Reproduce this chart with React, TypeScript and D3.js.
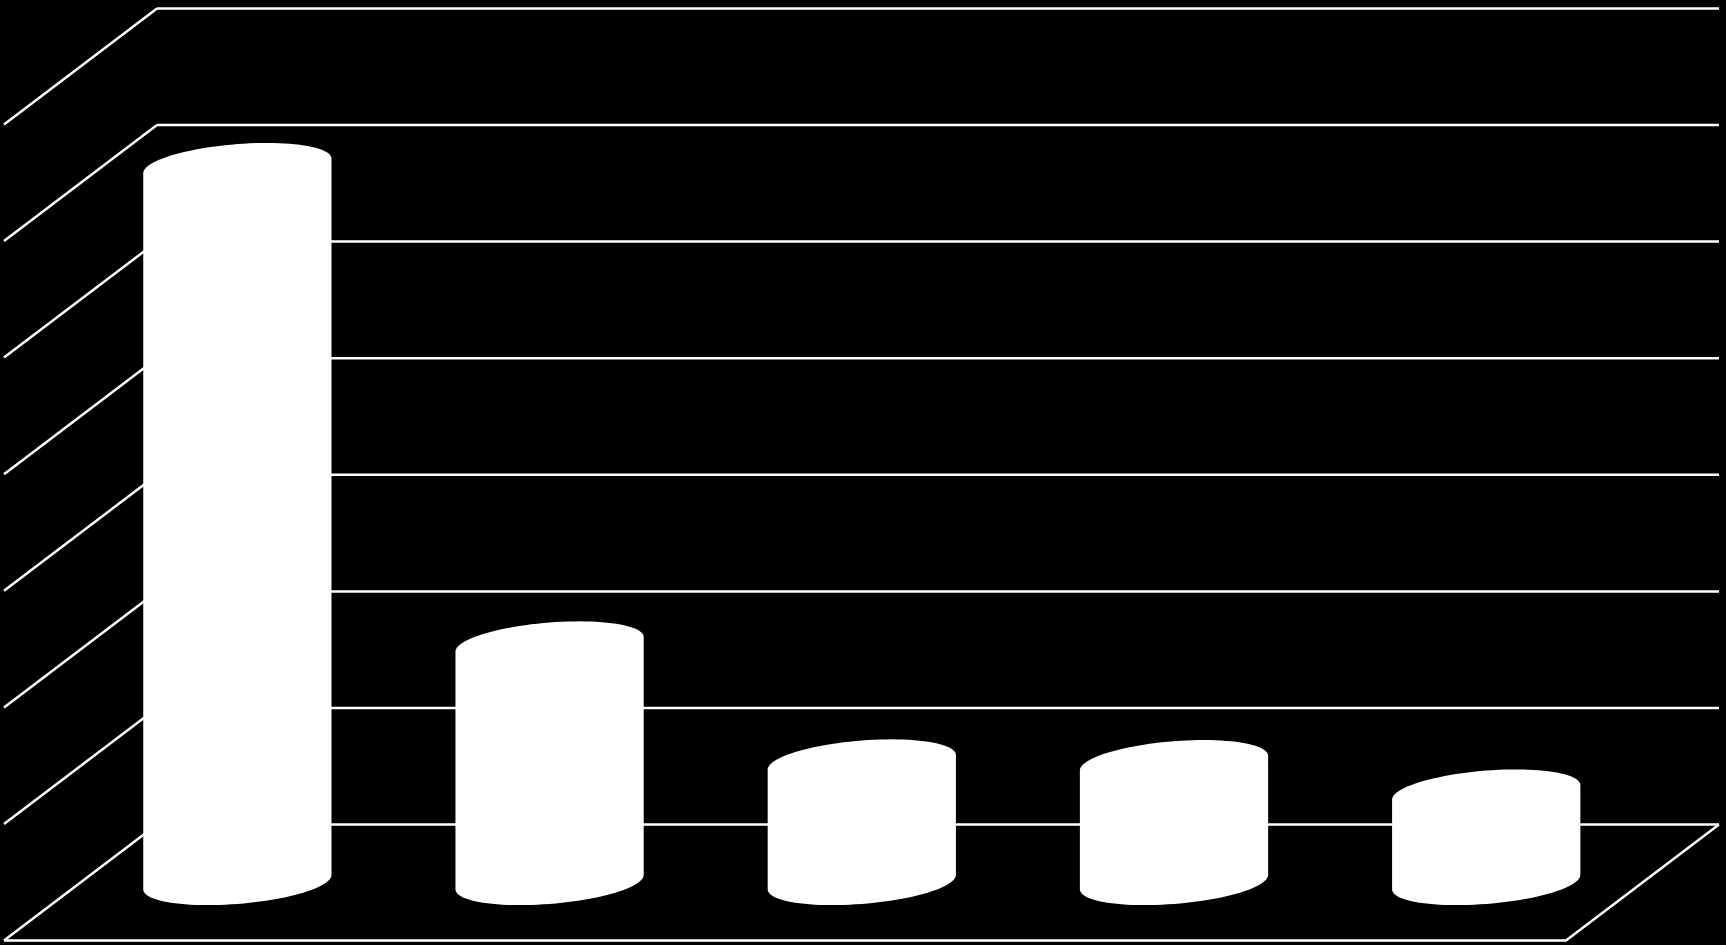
import * as React from "react";
import { select, scaleBand, scaleLinear, line, range } from "d3";

const WIDTH = 1726;
const HEIGHT = 945;

// the chart has no labels, the categories are just the bar order
const categories = [1, 2, 3, 4, 5];
const values = [6.142, 2.039, 1.027, 1.021, 0.769];
const gridValues = [0, 1, 2, 3, 4, 5, 6, 7];

// 3d box: front left corner and the shift to the back wall
const frontLeft = 4;
const frontRight = 1566;
const depthX = 153;
const depthY = 116;
const backBottom = 824.6;
const backTop = 8.4;

// cylinder cap, an ellipse sheared along the depth direction
const capHeight = 23;
const capShear = 0.32;

function App() {
    const svgRef = React.useRef<SVGSVGElement>(null);

    React.useEffect(() => {
        const svg = select(svgRef.current);

        const xScale = scaleBand<number>()
            .domain(categories)
            .range([frontLeft, frontRight])
            .paddingInner(0.397)
            .paddingOuter(0.2);

        const yScale = scaleLinear().domain([0, 7]).range([backBottom, backTop]);

        // walls
        const grid = svg.select(".grid");
        grid.selectAll(".back")
            .data(gridValues)
            .join("line")
            .attr("class", "back")
            .attr("x1", frontLeft + depthX)
            .attr("x2", frontRight + depthX)
            .attr("y1", d => yScale(d))
            .attr("y2", d => yScale(d));

        grid.selectAll(".side")
            .data(gridValues)
            .join("line")
            .attr("class", "side")
            .attr("x1", frontLeft)
            .attr("x2", frontLeft + depthX)
            .attr("y1", d => yScale(d) + depthY)
            .attr("y2", d => yScale(d));

        // floor
        grid.selectAll(".floor")
            .data([0])
            .join("path")
            .attr("class", "floor")
            .attr("fill", "none")
            .attr(
                "d",
                `M${frontLeft},${yScale(0) + depthY}L${frontRight},${yScale(0) + depthY}L${frontRight + depthX},${yScale(0)}`
            );

        grid.selectAll("line, path")
            .attr("stroke", "#fff")
            .attr("stroke-width", 2.5);

        // bars
        const a = xScale.bandwidth() / 2;
        const steps = range(0, 49).map(i => i / 48);
        const outline = line<number[]>();

        svg.select(".bars")
            .selectAll("path")
            .data(values)
            .join("path")
            .attr("fill", "#fff")
            .attr("d", (d, i) => {
                const cx = xScale(categories[i])! + a + depthX / 2 + 0.3;
                const yBase = yScale(0) + depthY / 2 - 0.5;
                const yTop = yBase - (yScale(0) - yScale(d));
                const top = steps.map(s => {
                    const t = Math.PI * (1 - s);
                    return [cx + a * Math.cos(t), yTop - capHeight * Math.sin(t + capShear)];
                });
                const bottom = steps.map(s => {
                    const t = -Math.PI * s;
                    return [cx + a * Math.cos(t), yBase - capHeight * Math.sin(t + capShear)];
                });
                return outline([...top, ...bottom]) + "Z";
            });
    }, []);

    return (
        <svg
            ref={svgRef}
            width={WIDTH}
            height={HEIGHT}
            style={{ position: "fixed", left: 0, top: 0, display: "block", background: "#000" }}
        >
            <g className="grid" />
            <g className="bars" />
        </svg>
    );
}
export default App;
